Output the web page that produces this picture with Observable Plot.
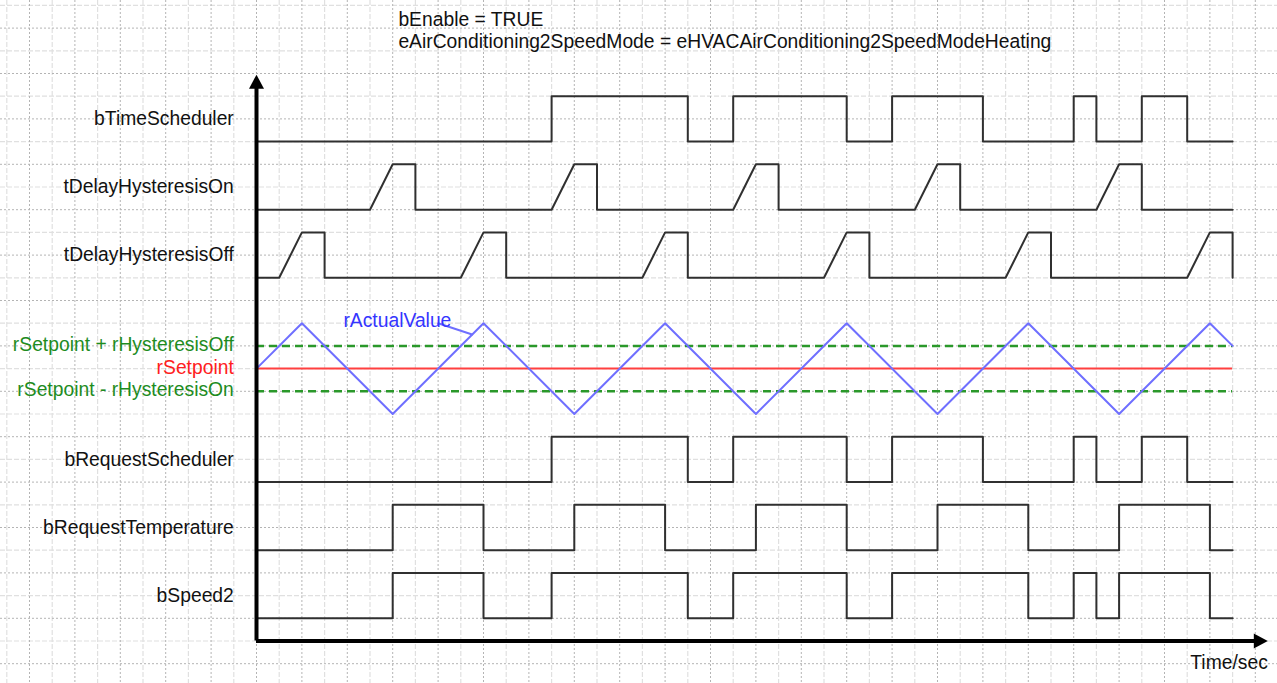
<!DOCTYPE html>
<html>
<head>
<meta charset="utf-8">
<script src="https://cdn.jsdelivr.net/npm/d3@7"></script>
<script src="https://cdn.jsdelivr.net/npm/@observablehq/plot@0.6"></script>
<style>
  html, body { margin: 0; padding: 0; background: #fff; overflow: hidden; }
  #chart svg { display: block; }
</style>
</head>
<body>
<div id="chart"></div>
<script>
// ---------- data (time in seconds-grid units) ----------
const tEnd = 43;
const titleLines = ["bEnable = TRUE", "eAirConditioning2SpeedMode = eHVACAirConditioning2SpeedModeHeating"];
const signalLabels = ["bTimeScheduler", "tDelayHysteresisOn", "tDelayHysteresisOff", "bRequestScheduler", "bRequestTemperature", "bSpeed2"];
const analogLabels = ["rSetpoint + rHysteresisOff", "rSetpoint", "rSetpoint - rHysteresisOn"];
const actualLabel = "rActualValue";
const timeLabel = "Time/sec";

// boolean signals: time of each toggle (all start FALSE)
const bTimeSchedulerEdges = [13, 19, 21, 26, 28, 32, 36, 37, 39, 41];
const bRequestSchedulerEdges = [13, 19, 21, 26, 28, 32, 36, 37, 39, 41];
const bRequestTemperatureEdges = [6, 10, 14, 18, 22, 26, 30, 34, 38, 42];
const bSpeed2Edges = [6, 10, 13, 19, 21, 26, 28, 34, 36, 37, 38, 42];

// delay timers (ramp up, hold, reset)
const tDelayOnTime  = [0, 5, 6, 7, 7, 13, 14, 15, 15, 21, 22, 23, 23, 29, 30, 31, 31, 37, 38, 39, 39, 43];
const tDelayOnValue = [0, 0, 1, 1, 0, 0, 1, 1, 0, 0, 1, 1, 0, 0, 1, 1, 0, 0, 1, 1, 0, 0];
const tDelayOffTime  = [0, 1, 2, 3, 3, 9, 10, 11, 11, 17, 18, 19, 19, 25, 26, 27, 27, 33, 34, 35, 35, 41, 42, 43, 43];
const tDelayOffValue = [0, 0, 1, 1, 0, 0, 1, 1, 0, 0, 1, 1, 0, 0, 1, 1, 0, 0, 1, 1, 0, 0, 1, 1, 0];

// analog value (relative to setpoint)
const rActualTime  = [0, 2, 6, 10, 14, 18, 22, 26, 30, 34, 38, 42, 43];
const rActualValue = [0, 2, -2, 2, -2, 2, -2, 2, -2, 2, -2, 2, 1];
const rSetpoint = 0;
const rHysteresisOff = 1;
const rHysteresisOn = 1;

// ---------- layout (grid rows above the time axis) ----------
const rowBase = {
  bTimeScheduler: 22, tDelayHysteresisOn: 19, tDelayHysteresisOff: 16,
  bRequestScheduler: 7, bRequestTemperature: 4, bSpeed2: 1
};
const amp = 2;
const analogCenter = 12;
const unit = 22.7;

function stepPoints(edges, name) {
  const b = rowBase[name];
  let v = 0;
  const pts = [{x: 0, y: b + v * amp, s: name}];
  for (const t of edges) {
    pts.push({x: t, y: b + v * amp, s: name});
    v = 1 - v;
    pts.push({x: t, y: b + v * amp, s: name});
  }
  pts.push({x: tEnd, y: b + v * amp, s: name});
  return pts;
}
function rampPoints(times, values, name) {
  const b = rowBase[name];
  return times.map((t, i) => ({x: t, y: b + values[i] * amp, s: name}));
}

const digital = [
  ...stepPoints(bTimeSchedulerEdges, "bTimeScheduler"),
  ...rampPoints(tDelayOnTime, tDelayOnValue, "tDelayHysteresisOn"),
  ...rampPoints(tDelayOffTime, tDelayOffValue, "tDelayHysteresisOff"),
  ...stepPoints(bRequestSchedulerEdges, "bRequestScheduler"),
  ...stepPoints(bRequestTemperatureEdges, "bRequestTemperature"),
  ...stepPoints(bSpeed2Edges, "bSpeed2")
];
const actual = rActualTime.map((t, i) => ({x: t, y: analogCenter + rActualValue[i]}));

const labelRows = signalLabels.map(n => ({text: n, y: rowBase[n] + amp / 2}));
const analogRows = [
  {text: analogLabels[0], y: analogCenter + rSetpoint + rHysteresisOff, c: "#1e8c1e"},
  {text: analogLabels[1], y: analogCenter + rSetpoint, c: "#ff2020"},
  {text: analogLabels[2], y: analogCenter + rSetpoint - rHysteresisOn, c: "#1e8c1e"}
];

const gridX = d3.range(-12, 46);
const gridY = d3.range(-2, 29);

const arrowUp = {draw(ctx) { ctx.moveTo(0, 0); ctx.lineTo(-7.5, 14); ctx.lineTo(7.5, 14); ctx.closePath(); }};
const arrowRight = {draw(ctx) { ctx.moveTo(0, 0); ctx.lineTo(-14, -7.5); ctx.lineTo(-14, 7.5); ctx.closePath(); }};

const font = "'Liberation Sans', Arial, sans-serif";
const fs = 19.3;

const chart = Plot.plot({
  width: 1277,
  height: 683,
  margin: 0,
  style: {background: "#fff", fontFamily: font},
  x: {type: "linear", domain: [0, tEnd], range: [256, 256 + tEnd * unit], axis: null},
  y: {type: "linear", domain: [0, 28], range: [640.5, 640.5 - 28 * unit], axis: null},
  marks: [
    // grid
    Plot.ruleX(gridX.filter(d => d % 2 !== 0), {stroke: "#e0e0e0", strokeWidth: 1.2, strokeDasharray: "5,2"}),
    Plot.ruleY(gridY.filter(d => d % 2 === 0), {stroke: "#e0e0e0", strokeWidth: 1.2, strokeDasharray: "5,2"}),
    Plot.ruleX(gridX.filter(d => d % 2 === 0), {stroke: "#b4b4b4", strokeWidth: 1, strokeDasharray: "2,2"}),
    Plot.ruleY(gridY.filter(d => d % 2 !== 0), {stroke: "#b4b4b4", strokeWidth: 1, strokeDasharray: "2,2"}),
    // thresholds
    Plot.ruleY([analogCenter + rSetpoint + rHysteresisOff, analogCenter + rSetpoint - rHysteresisOn],
      {x1: 0, x2: tEnd, stroke: "#2a982a", strokeWidth: 2.5, strokeDasharray: "8,5"}),
    Plot.ruleY([analogCenter + rSetpoint], {x1: 0, x2: tEnd, stroke: "#ff4040", strokeWidth: 2}),
    // actual value
    Plot.line(actual, {x: "x", y: "y", stroke: "#6f6fff", strokeWidth: 2, curve: "linear"}),
    Plot.line([{x: 8, y: 14}, {x: 9.5, y: 12 + 1.5}], {x: "x", y: "y", stroke: "#6f6fff", strokeWidth: 2}),
    // digital signals
    Plot.line(digital, {x: "x", y: "y", z: "s", stroke: "#303030", strokeWidth: 2, curve: "linear"}),
    // axes
    Plot.ruleX([0], {y1: 0, y2: 24.4, stroke: "#000", strokeWidth: 4}),
    Plot.ruleY([0], {x1: 0, x2: 44.0, stroke: "#000", strokeWidth: 4}),
    Plot.dot([{x: 0, y: 24.95}], {x: "x", y: "y", r: 5, symbol: arrowUp, fill: "#000", stroke: null}),
    Plot.dot([{x: 44.55, y: 0}], {x: "x", y: "y", r: 5, symbol: arrowRight, fill: "#000", stroke: null}),
    // labels
    Plot.text(labelRows, {x: -1, y: "y", text: "text", textAnchor: "end", fontSize: fs, fill: "#111"}),
    Plot.text(analogRows, {x: -1, y: d => d.y + 0.05, text: "text", textAnchor: "end", fontSize: fs, fill: "c"}),
    Plot.text([actualLabel], {x: 3.83, y: 14.1, text: d => d, textAnchor: "start", fontSize: fs, fill: "#3535ff"}),
    Plot.text([timeLabel], {x: 44.55, y: -0.95, text: d => d, textAnchor: "end", fontSize: fs, fill: "#111"}),
    Plot.text(titleLines, {x: 6.25, y: (d, i) => 27.38 - i * 0.97, text: d => d, textAnchor: "start", fontSize: fs, fill: "#111"})
  ]
});
document.getElementById("chart").appendChild(chart);
</script>
</body>
</html>
